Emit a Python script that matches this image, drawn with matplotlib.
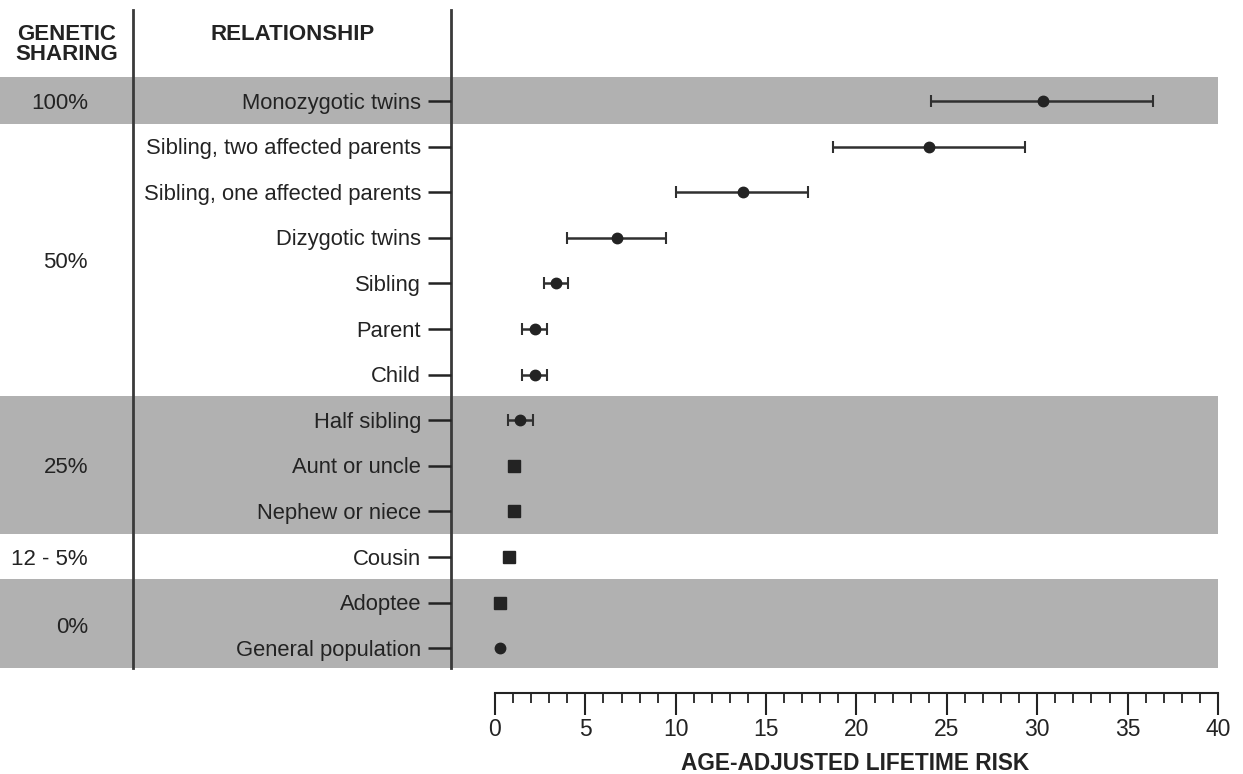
import numpy as np
import matplotlib
matplotlib.use("Agg")
import matplotlib.pyplot as plt

plt.rcParams['font.family'] = ['Liberation Sans', 'DejaVu Sans']

# data
relationships = ["Monozygotic twins", "Sibling, two affected parents",
                 "Sibling, one affected parents", "Dizygotic twins", "Sibling",
                 "Parent", "Child", "Half sibling", "Aunt or uncle",
                 "Nephew or niece", "Cousin", "Adoptee", "General population"]
risk = [30.3, 24.0, 13.7, 6.75, 3.4, 2.2, 2.2, 1.4, 1.05, 1.05, 0.8, 0.3, 0.3]
ci_low = [24.1, 18.7, 10.0, 4.0, 2.7, 1.5, 1.5, 0.7, np.nan, np.nan, np.nan, np.nan, np.nan]
ci_high = [36.4, 29.3, 17.3, 9.45, 4.05, 2.9, 2.9, 2.1, np.nan, np.nan, np.nan, np.nan, np.nan]
markers = ["o", "o", "o", "o", "o", "o", "o", "o", "s", "s", "s", "s", "o"]

sharing_labels = ["100%", "50%", "25%", "12 - 5%", "0%"]
sharing_first = [0, 1, 7, 10, 11]
sharing_last = [0, 6, 9, 10, 12]
sharing_shaded = [True, False, True, False, True]

ticks = [0, 5, 10, 15, 20, 25, 30, 35, 40]

# layout (pixels -> data): x=0 at 495px, x=40 at 1218px
W, H = 1243, 774
px_per = (1218 - 495) / 40.0
def xd(px):
    return (px - 495) / px_per

row_px = 45.6
def yd(py):
    return (py - 101) / row_px

ink = "#232323"
band = "#b1b1b1"
txt_shift = 0.045  # nudge text down a touch so caps sit on the row

fig = plt.figure(figsize=(W / 100, H / 100), dpi=100)
ax = fig.add_axes([0, (H - 693) / H, 1, 693 / H])
ax.set_xlim(xd(0), xd(W))
ax.set_ylim(yd(693), yd(0))

rows = np.arange(len(relationships))

# gray bands + genetic sharing column
for lab, a, b, sh in zip(sharing_labels, sharing_first, sharing_last, sharing_shaded):
    if sh:
        bot = b + 0.5 if b < 12 else yd(668)
        ax.fill_between([xd(0), 40], a - 0.52, bot, color=band, lw=0, zorder=0)
    ax.text(xd(88), (a + b) / 2 + txt_shift, lab, ha="right", va="center",
            fontsize=16, color=ink, zorder=3)

# column separators
for px in [133, 451]:
    ax.plot([xd(px), xd(px)], [yd(10), yd(668)], color="#3a3a3a", lw=2, zorder=2)

# headers
ax.text(xd(67), yd(24), "GENETIC\nSHARING", ha="center", va="top",
        fontsize=16, fontweight="bold", color=ink, linespacing=0.95)
ax.text(xd(293), yd(24), "RELATIONSHIP", ha="center", va="top",
        fontsize=16, fontweight="bold", color=ink)

# relationship labels + little tick dashes
for i, name in enumerate(relationships):
    ax.text(xd(421), i + txt_shift, name, ha="right", va="center",
            fontsize=15.8, color=ink)
ax.hlines(rows, xd(428), xd(451), color=ink, lw=1.8, zorder=2)

# estimates with intervals
risk_a = np.array(risk)
lo = risk_a - np.array(ci_low)
hi = np.array(ci_high) - risk_a
has_ci = ~np.isnan(lo)
ax.errorbar(risk_a[has_ci], rows[has_ci], xerr=[lo[has_ci], hi[has_ci]],
            fmt="none", ecolor="#303030", elinewidth=1.8, capsize=4,
            capthick=1.5, zorder=4)
for i in rows:
    if markers[i] == "s":
        ax.plot(risk[i], i, marker="s", ms=8.5, color=ink, ls="none", zorder=5)
    else:
        ax.plot(risk[i], i, marker="o", ms=7.5, color=ink, ls="none", zorder=5)

# bottom axis
for s in ["top", "left", "right"]:
    ax.spines[s].set_visible(False)
ax.spines["bottom"].set_bounds(0, 40)
ax.spines["bottom"].set_color(ink)
ax.spines["bottom"].set_linewidth(1.5)
ax.set_yticks([])
ax.set_xticks(ticks)
ax.set_xticks(np.arange(0, 41, 1), minor=True)
ax.tick_params(axis="x", which="major", length=16, width=1.5, color=ink,
               labelsize=16.5, labelcolor=ink, pad=2)
ax.tick_params(axis="x", which="minor", length=7, width=1.3, color=ink)
ax.patch.set_alpha(0)

fig.text(855 / W, 1 - 763 / H, "AGE-ADJUSTED LIFETIME RISK", ha="center",
         va="center", fontsize=16.3, fontweight="bold", color=ink)

fig.savefig("out.png", dpi=100)
